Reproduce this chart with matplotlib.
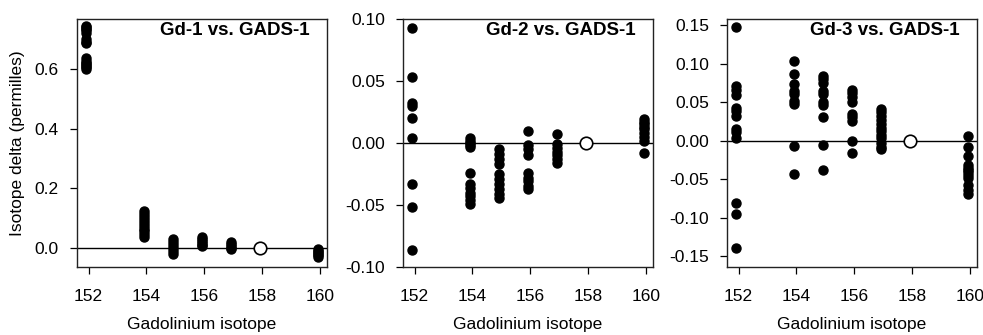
import matplotlib
matplotlib.use("Agg")
import matplotlib.pyplot as plt

plt.rcParams['font.family'] = ['Liberation Sans', 'DejaVu Sans']

# Gd isotope masses (x positions)
iso = [151.92, 153.92, 154.92, 155.92, 156.92, 157.92, 159.93]
ref_isotope = 157.92

titles = ["Gd-1 vs. GADS-1", "Gd-2 vs. GADS-1", "Gd-3 vs. GADS-1"]

# Panel 1 values per isotope (permil)
gd1_152 = [0.745, 0.74, 0.735, 0.73, 0.72, 0.70, 0.69, 0.685, 0.635, 0.625, 0.62, 0.615, 0.61, 0.605, 0.60]
gd1_154 = [0.125, 0.115, 0.105, 0.095, 0.085, 0.075, 0.065, 0.055, 0.045, 0.035]
gd1_155 = [0.03, 0.02, 0.01, 0.0, -0.01, -0.02]
gd1_156 = [0.035, 0.03, 0.022, 0.015, 0.01, 0.005]
gd1_157 = [0.02, 0.012, 0.006, 0.0, -0.005]
gd1_160 = [-0.005, -0.01, -0.015, -0.02, -0.025, -0.03]

# Panel 2
gd2_152 = [0.093, 0.053, 0.032, 0.030, 0.020, 0.004, -0.033, -0.052, -0.086]
gd2_154 = [0.004, 0.002, 0.0, -0.002, -0.003, -0.024, -0.033, -0.036, -0.040, -0.043, -0.046, -0.049]
gd2_155 = [-0.005, -0.009, -0.013, -0.017, -0.025, -0.029, -0.033, -0.037, -0.041, -0.044]
gd2_156 = [0.010, -0.002, -0.005, -0.010, -0.024, -0.028, -0.031, -0.035, -0.037]
gd2_157 = [0.007, -0.001, -0.004, -0.007, -0.010, -0.013, -0.016]
gd2_160 = [0.019, 0.017, 0.015, 0.013, 0.011, 0.008, 0.005, 0.002, -0.008]

# Panel 3
gd3_152 = [0.147, 0.071, 0.066, 0.059, 0.043, 0.039, 0.032, 0.015, 0.011, 0.004, -0.081, -0.095, -0.139]
gd3_154 = [0.104, 0.087, 0.074, 0.065, 0.061, 0.052, 0.048, -0.007, -0.043]
gd3_155 = [0.084, 0.080, 0.075, 0.065, 0.061, 0.050, 0.046, 0.031, -0.006, -0.038]
gd3_156 = [0.066, 0.062, 0.057, 0.050, 0.035, 0.031, 0.026, 0.0, -0.016]
gd3_157 = [0.041, 0.037, 0.032, 0.027, 0.022, 0.017, 0.012, 0.007, 0.003, -0.003, -0.008, -0.011]
gd3_160 = [0.006, -0.008, -0.020, -0.032, -0.035, -0.038, -0.041, -0.044, -0.048, -0.057, -0.064, -0.069]

panels = [
    [gd1_152, gd1_154, gd1_155, gd1_156, gd1_157, gd1_160],
    [gd2_152, gd2_154, gd2_155, gd2_156, gd2_157, gd2_160],
    [gd3_152, gd3_154, gd3_155, gd3_156, gd3_157, gd3_160],
]
data_iso = [151.92, 153.92, 154.92, 155.92, 156.92, 159.93]

yticks_list = [
    [0.0, 0.2, 0.4, 0.6],
    [-0.10, -0.05, 0.00, 0.05, 0.10],
    [-0.15, -0.10, -0.05, 0.00, 0.05, 0.10, 0.15],
]
ytick_labels = [
    ["0.0", "0.2", "0.4", "0.6"],
    ["-0.10", "-0.05", "0.00", "0.05", "0.10"],
    ["-0.15", "-0.10", "-0.05", "0.00", "0.05", "0.10", "0.15"],
]
ylims = [(-0.064, 0.767), (-0.10, 0.10), (-0.164, 0.158)]
xticks = [152, 154, 156, 158, 160]

W, H = 983, 335
fig = plt.figure(figsize=(W / 100, H / 100), dpi=100)
lefts = [77, 403, 727]
bottom_px, top_px = 267, 19
axw = 250

for k in range(3):
    ax = fig.add_axes([lefts[k] / W, 1 - bottom_px / H, axw / W, (bottom_px - top_px) / H])
    ax.axhline(0, color='black', lw=1.0, zorder=1)
    for xi, vals in zip(data_iso, panels[k]):
        ax.plot([xi] * len(vals), vals, 'o', color='black', ms=6.5, mec='black', zorder=3)
    ax.plot([ref_isotope], [0], 'o', color='white', mec='black', mew=1.2, ms=9, zorder=4)
    ax.set_xlim(151.6, 160.25)
    ax.set_ylim(*ylims[k])
    ax.set_xticks(xticks)
    ax.set_xticklabels([str(t) for t in xticks])
    ax.set_yticks(yticks_list[k])
    ax.set_yticklabels(ytick_labels[k])
    ax.tick_params(direction='out', length=5, width=0.9, labelsize=12.5, colors='black')
    ax.tick_params(axis='x', pad=11)
    ax.tick_params(axis='y', pad=8)
    for s in ax.spines.values():
        s.set_linewidth(1.0)
        s.set_color('#222222')
    ax.set_xlabel("Gadolinium isotope", fontsize=12.5, labelpad=9)
    ax.text(0.93, 0.955, titles[k], transform=ax.transAxes, ha='right', va='center',
            fontsize=13.5, fontweight='bold')
    if k == 0:
        ax.set_ylabel("Isotope delta (permilles)", fontsize=12.5, labelpad=7)

fig.savefig("out.png", dpi=100)
